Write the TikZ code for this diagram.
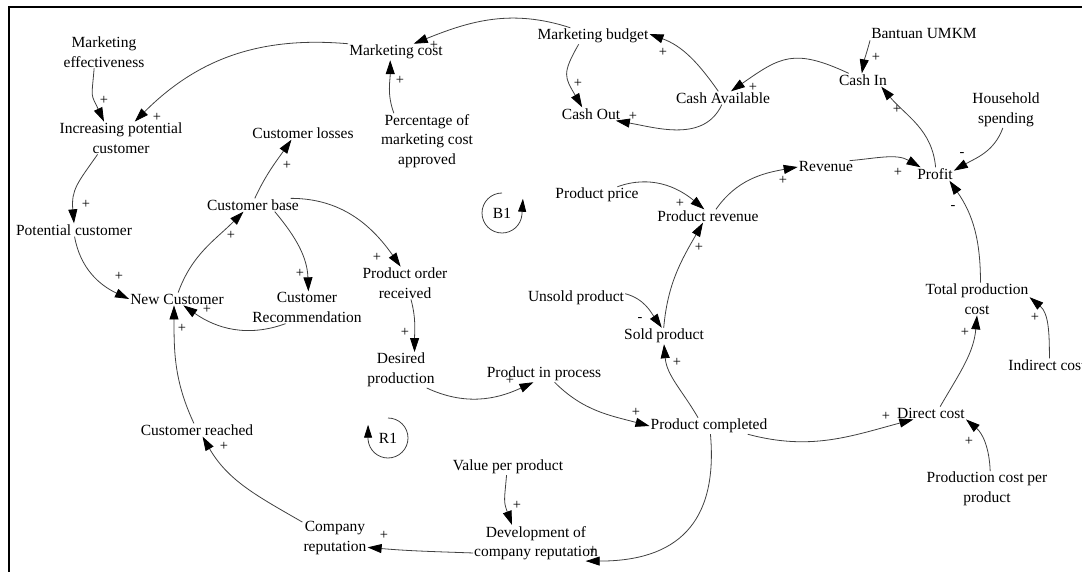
\documentclass[tikz,border=0pt]{standalone}
\usepackage{fontspec}
\setmainfont{Liberation Serif}
\usetikzlibrary{arrows.meta}

\tikzset{
  var/.style={align=center, inner sep=1pt, font=\fontsize{15.5}{19.5}\selectfont},
  sgn/.style={inner sep=0pt, font=\fontsize{14.5}{14.5}\selectfont},
  lnk/.style={draw=black!75, line width=0.8pt, -{Triangle[length=14pt,width=9pt,color=black]}},
  loopmk/.style={draw=black!75, line width=0.8pt, -{Triangle[length=13pt,width=8pt,color=black]}}
}

\begin{document}
\begin{tikzpicture}[x=1pt,y=1pt]
	\useasboundingbox (0,0) rectangle (1082,-572);
	\draw[line width=2.4pt] (9,-572) -- (9,-7) -- (1082,-7);

	% variables
	\node[var] (meff) at (104,-52) {Marketing\\effectiveness};
	\node[var] (ipc) at (121,-138) {Increasing potential\\customer};
	\node[var] (mcost) at (396,-52) {Marketing cost};
	\node[var] (mbudget) at (593,-36) {Marketing budget};
	\node[var] (cashout) at (591,-114) {Cash Out};
	\node[var] (cavail) at (723,-98) {Cash Available};
	\node[var] (cashin) at (863,-80) {Cash In};
	\node[var] (bantuan) at (924,-34) {Bantuan UMKM};
	\node[var] (hhs) at (1006,-110) {Household\\spending};
	\node[var] (profit) at (935,-174) {Profit};
	\node[var] (rev) at (826,-167) {Revenue};
	\node[var] (prev) at (708,-216) {Product revenue};
	\node[var] (pprice) at (597,-195) {Product price};
	\node[var] (unsold) at (576,-298) {Unsold product};
	\node[var] (sold) at (664,-336) {Sold product};
	\node[var] (pip) at (544,-374) {Product in process};
	\node[var] (pct) at (427,-141) {Percentage of\\marketing cost\\approved};
	\node[var] (closs) at (303,-133) {Customer losses};
	\node[var] (cbase) at (253,-205) {Customer base};
	\node[var] (pcust) at (74,-230) {Potential customer};
	\node[var] (newc) at (177,-299) {New Customer};
	\node[var] (crec) at (307,-307.5) {Customer\\Recommendation};
	\node[var] (por) at (405,-283) {Product order\\received};
	\node[var] (desp) at (401,-370) {Desired\\production};
	\node[var] (creach) at (197,-430) {Customer reached};
	\node[var] (crep) at (335,-538) {Company\\reputation};
	\node[var] (vpp) at (508,-467) {Value per product};
	\node[var] (devrep) at (536,-543) {Development of\\company reputation};
	\node[var] (pcomp) at (709,-426) {Product completed};
	\node[var] (dcost) at (931,-413) {Direct cost};
	\node[var] (pcpp) at (987,-489) {Production cost per\\product};
	\node[var] (tpc) at (977,-299) {Total production\\cost};
	\node[var] (icost) at (1047,-365) {Indirect cost};
	\node[var] (b1) at (502,-213) {B1};
	\node[var] (r1) at (388,-438) {R1};

	% loop markers
	\draw[loopmk] ([shift={(90:20)}]b1.center) arc[start angle=90,end angle=355,radius=20] -- ++(1,16);
	\draw[loopmk] ([shift={(90:20)}]r1.center) arc[start angle=90,end angle=-175,radius=20] -- ++(0,15);

	% links
	\draw[lnk] (meff.-121) to[out=-95,in=115,looseness=1.5] (ipc.136);
	\draw[lnk] (mcost.north west) to[out=175,in=45] (ipc.50);
	\draw[lnk] (ipc.-145) to[out=-125,in=95,looseness=1.2] (pcust.north);
	\draw[lnk] (pcust.-85) to[out=-80,in=155] (newc.west);
	\draw[lnk] (newc.80) to[out=70,in=-135] (cbase.-145);
	\draw[lnk] (cbase.75) to[out=65,in=-125] (closs.-150);
	\draw[lnk] (cbase.-17) to[out=-50,in=92] (crec.85);
	\draw[lnk] (cbase.10) to[out=0,in=125] (por.105);
	\draw[lnk] (crec.-143) to[out=-160,in=-35] (newc.-45);
	\draw[lnk] (creach.115) to[out=115,in=-90] (newc.-115);
	\draw[lnk] (crep.154) to[out=150,in=-60] (creach.-50);
	\draw[lnk] (devrep.-171) to[out=178,in=-5] (crep.-16);
	\draw[lnk] (vpp.-100) to[out=-95,in=110,looseness=1.3] (devrep.143);
	\draw[lnk] (pcomp.-80) to[out=-85,in=0,looseness=1.3] (devrep.-20);
	\draw[lnk] (por.-70) to[out=-75,in=90] (desp.53);
	\draw[lnk] (desp.-35) to[out=-25,in=-155] (pip.-142);
	\draw[lnk] (pip.-38) to[out=-45,in=165] (pcomp.west);
	\draw[lnk] (pcomp.-12) to[out=-15,in=195] (dcost.200);
	\draw[lnk] (pcomp.143) to[out=120,in=-85] (sold.south);
	\draw[lnk] (unsold.5) to[out=-15,in=125] (sold.105);
	\draw[lnk] (sold.92) to[out=85,in=-120] (prev.-127);
	\draw[lnk] (pprice.22) to[out=20,in=140] (prev.119);
	\draw[lnk] (prev.40) to[out=55,in=190] (rev.west);
	\draw[lnk] (rev.15) to[out=5,in=150] (profit.155);
	\draw[lnk] (hhs.-100) to[out=-110,in=30] (profit.10);
	\draw[lnk] (tpc.78) to[out=90,in=-55] (profit.-25);
	\draw[lnk] (profit.85) to[out=95,in=-50] (cashin.-20);
	\draw[lnk] (bantuan.south west) to[out=-105,in=80] (cashin.100);
	\draw[lnk] (cashin.155) to[out=155,in=35,looseness=1.3] (cavail.40);
	\draw[lnk] (cavail.125) to[out=125,in=-20] (mbudget.2);
	\draw[lnk] (cavail.-100) to[out=-115,in=-10] (cashout.-15);
	\draw[lnk] (mbudget.-150) to[out=-120,in=120,looseness=1.4] (cashout.143);
	\draw[lnk] (mbudget.160) to[out=162,in=22] (mcost.25);
	\draw[lnk] (pct.140) to[out=110,in=-90] (mcost.-125);
	\draw[lnk] (icost.70) to[out=90,in=-40] (tpc.2);
	\draw[lnk] (dcost.35) to[out=60,in=-95] (tpc.south);
	\draw[lnk] (pcpp.80) to[out=92,in=-40] (dcost.south east);

	% polarities
	\node[sgn] (s1) at (104,-100) {+};
	\node[sgn] (s2) at (157,-117) {+};
	\node[sgn] (s3) at (86,-204) {+};
	\node[sgn] (s4) at (119,-276) {+};
	\node[sgn] (s5) at (231,-235) {+};
	\node[sgn] (s6) at (287,-165) {+};
	\node[sgn] (s7) at (300,-273) {+};
	\node[sgn] (s8) at (377,-257) {+};
	\node[sgn] (s9) at (207,-309) {+};
	\node[sgn] (s10) at (182,-328) {+};
	\node[sgn] (s11) at (224,-446) {+};
	\node[sgn] (s12) at (384,-535) {+};
	\node[sgn] (s13) at (517,-505) {+};
	\node[sgn] (s14) at (593,-550) {+};
	\node[sgn] (s15) at (405,-332) {+};
	\node[sgn] (s16) at (510,-380) {+};
	\node[sgn] (s17) at (636,-412) {+};
	\node[sgn] (s18) at (886,-416) {+};
	\node[sgn] (s19) at (677,-362) {+};
	\node[sgn] (s20) at (640,-320) {-};
	\node[sgn] (s21) at (699,-247) {+};
	\node[sgn] (s22) at (680,-203) {+};
	\node[sgn] (s23) at (783,-180) {+};
	\node[sgn] (s24) at (898,-172) {+};
	\node[sgn] (s25) at (962,-155) {-};
	\node[sgn] (s26) at (953,-208) {-};
	\node[sgn] (s27) at (897,-109) {+};
	\node[sgn] (s28) at (876,-57) {+};
	\node[sgn] (s29) at (753,-87) {+};
	\node[sgn] (s30) at (663,-52) {+};
	\node[sgn] (s31) at (633,-116) {+};
	\node[sgn] (s32) at (578,-83) {+};
	\node[sgn] (s33) at (434,-45) {+};
	\node[sgn] (s34) at (400,-80) {+};
	\node[sgn] (s35) at (1035,-317) {+};
	\node[sgn] (s36) at (965,-332) {+};
	\node[sgn] (s37) at (969,-441) {+};
\end{tikzpicture}
\end{document}
